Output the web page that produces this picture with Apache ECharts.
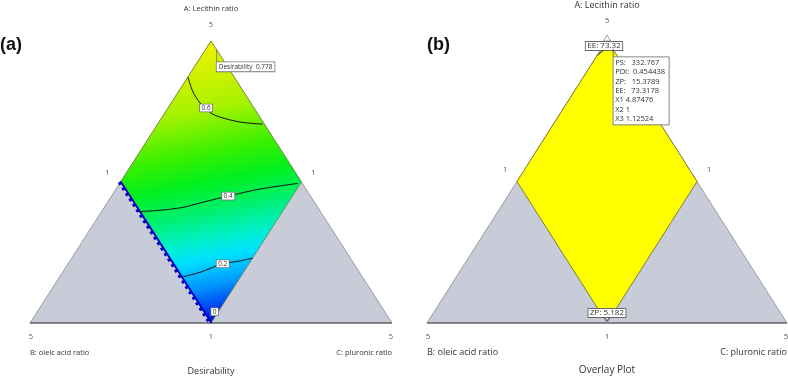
<!DOCTYPE html>
<html><head><meta charset="utf-8">
<script src="https://cdn.jsdelivr.net/npm/echarts@6/dist/echarts.min.js"></script>
<style>html,body{margin:0;padding:0;background:#fff}#chart{width:788px;height:377px}</style>
</head><body><div id="chart"></div>
<script>
// ---------- data (component values A, B, C; A+B+C = 7, each 1..5) ----------
const LOW = 1, HIGH = 5;
const vertexA = [5, 1, 1];
const vertexB = [1, 5, 1];
const vertexC = [1, 1, 5];
const outerTriangle = [vertexA, vertexB, vertexC];
const feasibleRegion = [[5, 1, 1], [3, 3, 1], [1, 3, 3], [3, 1, 3]];
const constraintEdge = [[3, 3, 1], [1, 3, 3]];   // B = 3 boundary (desirability 0 edge)

// desirability contours (panel a)
const contourLevels = ['0.6', '0.4', '0.2', '0'];
const contour06 = [[4.49, 1.51, 1.00], [4.28, 1.56, 1.16], [4.12, 1.56, 1.32], [3.99, 1.52, 1.49], [3.92, 1.44, 1.64], [3.85, 1.25, 1.90], [3.82, 1.02, 2.16]];
const contour04 = [[2.58, 3.00, 1.42], [2.60, 2.76, 1.64], [2.64, 2.49, 1.87], [2.72, 2.21, 2.07], [2.80, 1.91, 2.29], [2.90, 1.51, 2.59], [2.98, 1.05, 2.97]];
const contour02 = [[1.65, 3.00, 2.35], [1.72, 2.76, 2.52], [1.84, 2.45, 2.71], [1.88, 2.24, 2.88], [1.92, 2.08, 3.00]];
const contourLabelPoints = [[4.05, 1.53, 1.42], [2.80, 1.91, 2.29], [1.84, 2.45, 2.71], [1.16, 2.88, 2.96]];

// optimum point
const optimum = [4.87476, 1, 1.12524];
const desirabilityText = 'Desirability  0.778';

// overlay region (panel b)
const overlayRegion = [[4.78, 1.22, 1.00], [4.86, 1.10, 1.04], [4.87476, 1, 1.12524], [3, 1, 3], [1.2, 2.8, 3], [1.2, 3, 2.8], [3, 3, 1]];
const eeFlag = 'EE: 73.32';
const zpFlag = 'ZP: 5.182';
const flagNames = ['PS:', 'PDI:', 'ZP:', 'EE:', 'X1', 'X2', 'X3'];
const flagValues = ['332.767', '0.454438', '15.3789', '73.3178', '4.87476', '1', '1.12524'];

// tick labels and titles
const tickTop = '5';
const tickSide = '1';
const tickBottom = ['5', '1', '5'];
const axisTitles = ['A: Lecithin ratio', 'B: oleic acid ratio', 'C: pluronic ratio'];
const panelTitles = ['Desirability', 'Overlay Plot'];
const panelTags = ['(a)', '(b)'];

// ---------- helpers ----------
const FONT = '"Open Sans", "Liberation Sans", sans-serif';
function toXY(p) {
  const a = (p[0] - LOW) / (HIGH - LOW), c = (p[2] - LOW) / (HIGH - LOW);
  return [c + a / 2, a];
}
function base(g, z, data) {
  return { type: 'custom', coordinateSystem: 'cartesian2d', xAxisIndex: g, yAxisIndex: g, z: z,
    silent: true, clip: false, animation: false, data: data };
}
function polygonSeries(g, pts, style, z) {
  const xy = pts.map(toXY);
  const s = base(g, z, xy);
  s.renderItem = (params, api) => params.dataIndex === 0 ?
    { type: 'polygon', shape: { points: xy.map(p => api.coord(p)) }, style: style } : null;
  return s;
}
function lineSeries(g, pts, style, z, smooth, dx) {
  const xy = pts.map(toXY);
  const s = base(g, z, xy);
  s.renderItem = (params, api) => params.dataIndex === 0 ?
    { type: 'polyline', x: dx || 0, shape: { points: xy.map(p => api.coord(p)), smooth: smooth || 0 }, style: style } : null;
  return s;
}
function textSeries(g, items, z) {
  const s = base(g, z, items.map(it => toXY(it.at)));
  s.renderItem = (params, api) => {
    const it = items[params.dataIndex];
    const c = api.coord([api.value(0), api.value(1)]);
    const style = { text: it.text, fill: it.color || '#333', font: (it.bold ? 'bold ' : '') + it.size + 'px ' + (it.family || FONT),
      align: it.align || 'center', verticalAlign: 'middle' };
    if (it.box) { style.backgroundColor = '#fff'; style.borderColor = '#777'; style.borderWidth = 0.8; style.padding = [0, 1.5]; }
    return { type: 'text', x: c[0] + (it.dx || 0), y: c[1] + (it.dy || 0), style: style };
  };
  return s;
}
function panelLabels(g, sz) {
  const mid = [1, 3, 3];
  return [
    { at: vertexA, dy: sz.titleA, text: axisTitles[0], size: sz.axis },
    { at: vertexA, dy: sz.top, text: tickTop, size: sz.tick, color: '#555' },
    { at: [3, 3, 1], dx: sz.sideDx[0], dy: sz.sideDy, text: tickSide, size: sz.tick, color: '#555' },
    { at: [3, 1, 3], dx: sz.sideDx[1], dy: sz.sideDy, text: tickSide, size: sz.tick, color: '#555' },
    { at: vertexB, dx: 1, dy: sz.bot, text: tickBottom[0], size: sz.tick, color: '#555' },
    { at: mid, dy: sz.bot, text: tickBottom[1], size: sz.tick, color: '#555' },
    { at: vertexC, dx: -1, dy: sz.bot, text: tickBottom[2], size: sz.tick, color: '#555' },
    { at: vertexB, dy: sz.axisY, text: axisTitles[1], size: sz.axis, align: 'left' },
    { at: vertexC, dy: sz.axisY, text: axisTitles[2], size: sz.axis, align: 'right' },
    { at: mid, dy: sz.titleY, text: panelTitles[g], size: sz.title },
    { at: vertexB, dx: sz.tagDx, dy: sz.tagDy, text: panelTags[g], size: 18, bold: true, align: 'left', color: '#111', family: '"Liberation Sans", Arial, sans-serif' }
  ];
}

const grayFill = '#c8ccd8';
const series = [];
// ---- panel (a) ----
series.push(polygonSeries(0, outerTriangle, { fill: grayFill, stroke: '#8a8a8a', lineWidth: 0.8 }, 1));
series.push(polygonSeries(0, feasibleRegion, {
  fill: new echarts.graphic.LinearGradient(0.35, 0, 0.65, 1, [
    { offset: 0, color: '#f2f200' }, { offset: 0.1, color: '#d8f200' }, { offset: 0.25, color: '#a6f200' },
    { offset: 0.4, color: '#36f000' }, { offset: 0.5, color: '#00f020' }, { offset: 0.6, color: '#00f070' },
    { offset: 0.7, color: '#00f0d0' }, { offset: 0.76, color: '#00e0ff' }, { offset: 0.85, color: '#0098ff' },
    { offset: 0.93, color: '#0040f0' }, { offset: 1, color: '#0000c0' }]),
  stroke: '#6f7a3a', lineWidth: 0.7 }, 2));
series.push(lineSeries(0, [vertexB, vertexC], { stroke: '#444', lineWidth: 1.2, fill: null }, 3));
series.push(lineSeries(0, constraintEdge, { stroke: '#0000c8', lineWidth: 1.8, fill: null }, 4, 0, 0.5));
series.push(lineSeries(0, constraintEdge, { stroke: '#0000c8', lineWidth: 3.5, lineDash: [3, 3.5], fill: null }, 4, 0, -1.2));
[contour06, contour04, contour02].forEach(c => series.push(lineSeries(0, c, { stroke: '#111', lineWidth: 1, fill: null }, 5, 0.3)));
series.push(textSeries(0, contourLabelPoints.map((p, i) => ({ at: p, text: contourLevels[i], size: 6.5, box: true })), 6));
// optimum flag (a)
(function () {
  const s = base(0, 6, [toXY(optimum)]);
  s.renderItem = (params, api) => {
    const c = api.coord([api.value(0), api.value(1)]);
    return { type: 'group', children: [
      { type: 'line', shape: { x1: c[0], y1: c[1], x2: c[0], y2: c[1] + 12 }, style: { stroke: '#666', lineWidth: 0.8 } },
      { type: 'text', x: c[0], y: c[1] + 17, style: { text: desirabilityText, font: '6.5px ' + FONT, fill: '#333',
        align: 'left', verticalAlign: 'middle', backgroundColor: '#fff', borderColor: '#777', borderWidth: 0.8, padding: [1, 2] } }
    ] };
  };
  series.push(s);
})();
series.push(textSeries(0, panelLabels(0, { titleA: -32, top: -16, sideDx: [-13, 12], sideDy: -9, bot: 14, axisY: 30, titleY: 48, tick: 7.5, axis: 7.5, title: 9, tagDx: -30, tagDy: -278 }), 7));

// ---- panel (b) ----
series.push(polygonSeries(1, outerTriangle, { fill: grayFill, stroke: '#8a8a8a', lineWidth: 0.8 }, 1));
series.push(polygonSeries(1, feasibleRegion, { fill: grayFill, stroke: '#7a7a6a', lineWidth: 0.7 }, 2));
series.push(polygonSeries(1, overlayRegion, { fill: '#ffff00', stroke: '#6a6a30', lineWidth: 0.7 }, 3));
series.push(lineSeries(1, [vertexB, vertexC], { stroke: '#444', lineWidth: 1.2, fill: null }, 3));
series.push(lineSeries(1, overlayRegion.slice(0, 3), { stroke: '#333', lineWidth: 1, fill: null }, 4, 0.4));
// constraint flags
(function () {
  const s = base(1, 6, [toXY(vertexA), toXY([1, 3, 3])]);
  s.renderItem = (params, api) => {
    const c = api.coord([api.value(0), api.value(1)]);
    const top = params.dataIndex === 0;
    const tri = top ?
      [[c[0], c[1] - 5], [c[0] - 3.5, c[1] + 1], [c[0] + 3.5, c[1] + 1]] :
      [[c[0] - 4, c[1] - 8], [c[0] + 4, c[1] - 8], [c[0], c[1] - 2]];
    return { type: 'group', children: [
      { type: 'polygon', shape: { points: tri }, style: { fill: '#fff', stroke: top ? '#999' : '#333', lineWidth: 0.9 } },
      { type: 'text', x: c[0] + (top ? -3 : 0), y: c[1] + (top ? 6 : -10), style: { text: top ? eeFlag : zpFlag,
        font: '8px ' + FONT, fill: '#333', align: 'center', verticalAlign: 'middle',
        backgroundColor: '#fff', borderColor: '#666', borderWidth: 0.9, padding: [0, 1.5] } }
    ] };
  };
  series.push(s);
})();
// optimum flag (b)
(function () {
  const s = base(1, 7, [toXY(optimum)]);
  s.renderItem = (params, api) => {
    const c = api.coord([api.value(0), api.value(1)]);
    const children = [
      { type: 'line', shape: { x1: c[0] + 0.5, y1: c[1], x2: c[0] + 0.5, y2: c[1] + 8 }, style: { stroke: '#555', lineWidth: 0.9 } },
      { type: 'rect', shape: { x: c[0] + 0.5, y: c[1] + 8, width: 56, height: 68 }, style: { fill: '#fff', stroke: '#777', lineWidth: 0.9 } }
    ];
    flagNames.forEach((n, i) => {
      const gap = i < 4 ? (n.length > 3 ? '  ' : '   ') : ' ';
      children.push({ type: 'text', x: c[0] + 2.5, y: c[1] + 14 + i * 9.35,
        style: { text: n + gap + flagValues[i], font: '7.5px ' + FONT, fill: '#333', align: 'left', verticalAlign: 'middle' } });
    });
    return { type: 'group', children: children };
  };
  series.push(s);
})();
series.push(textSeries(1, panelLabels(1, { titleA: -35, top: -19, sideDx: [-12, 12], sideDy: -12, bot: 13.5, axisY: 29, titleY: 47, tick: 8, axis: 9, title: 10, tagDx: 0, tagDy: -278 }), 8));

const axisOff = { type: 'value', min: 0, max: 1, show: false };
const chart = echarts.init(document.getElementById('chart'), null, { renderer: 'canvas' });
chart.setOption({
  backgroundColor: '#ffffff',
  animation: false,
  grid: [
    { left: 30, top: 41, width: 362, height: 282 },
    { left: 427, top: 40, width: 360, height: 283 }
  ],
  xAxis: [Object.assign({ gridIndex: 0 }, axisOff), Object.assign({ gridIndex: 1 }, axisOff)],
  yAxis: [Object.assign({ gridIndex: 0 }, axisOff), Object.assign({ gridIndex: 1 }, axisOff)],
  series: series
});
</script></body></html>
